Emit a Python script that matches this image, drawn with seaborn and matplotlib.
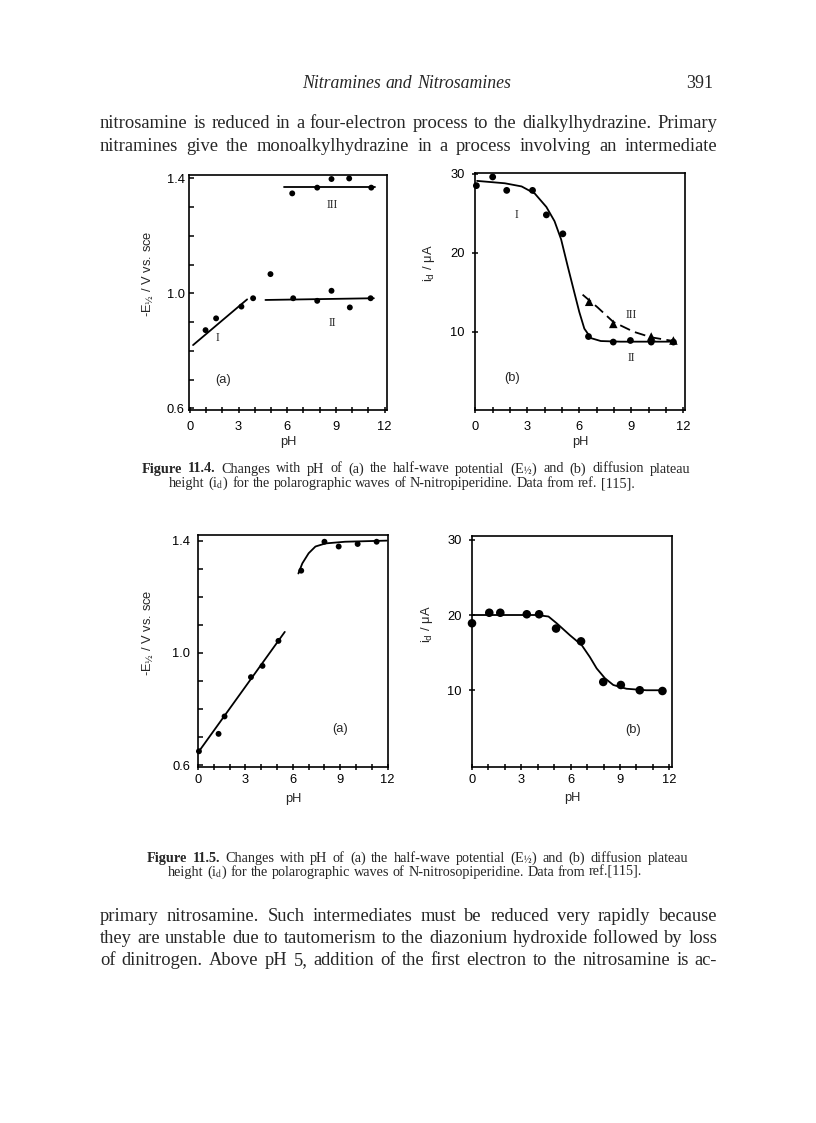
import numpy as np
import pandas as pd
import seaborn as sns
import matplotlib.pyplot as plt
from matplotlib.ticker import FixedLocator

sns.set_style("ticks")
plt.rcParams['font.family'] = ['Liberation Sans', 'DejaVu Sans']
plt.rcParams['axes.edgecolor'] = 'black'
plt.rcParams['xtick.color'] = 'black'
plt.rcParams['ytick.color'] = 'black'

# ---- Figure 11.4 (a): -E1/2 vs pH, N-nitropiperidine
e4a_ph = [0.97, 1.62, 3.18, 3.9, 4.97, 6.37, 7.85, 8.73, 9.86, 11.14]
e4a_val = [0.872, 0.913, 0.954, 0.983, 1.067, 0.983, 0.974, 1.009, 0.951, 0.983]
e4a_iii_ph = [6.31, 7.85, 8.73, 9.82, 11.18]
e4a_iii_val = [1.348, 1.368, 1.398, 1.400, 1.368]
fit4a_i_ph, fit4a_i_val = [0.2, 3.53], [0.82, 0.979]
fit4a_ii_ph, fit4a_ii_val = [4.66, 11.34], [0.977, 0.983]
fit4a_iii_ph, fit4a_iii_val = [5.8, 11.4], [1.371, 1.371]

# ---- Figure 11.4 (b): i_d vs pH
i4b_ph = [0.06, 1.0, 1.81, 3.3, 4.1, 5.05, 6.53, 7.96, 8.95, 10.15, 11.43]
i4b_val = [28.5, 29.6, 27.9, 27.9, 24.8, 22.4, 9.4, 8.7, 8.9, 8.7, 8.7]
i4b_iii_ph = [6.57, 7.96, 10.15, 11.43]
i4b_iii_val = [13.8, 11.0, 9.4, 8.9]
fit4b_ph = [0.1, 1.7, 2.67, 3.43, 4.1, 4.57, 4.95, 5.33, 5.71, 6.0, 6.29, 6.67, 7.24, 8.38, 11.43]
fit4b_val = [29.1, 28.8, 28.4, 27.5, 25.8, 24.0, 21.7, 18.3, 15.0, 12.5, 10.4, 9.2, 8.83, 8.75, 8.75]
fit4b_iii_ph = [6.19, 7.05, 7.96, 9.14, 10.15, 11.43]
fit4b_iii_val = [14.7, 13.1, 11.25, 10.0, 9.3, 8.83]

# ---- Figure 11.5 (a): -E1/2 vs pH, N-nitrosopiperidine
e5a_ph = [0.06, 1.3, 1.68, 3.35, 4.08, 5.09, 6.53, 8.0, 8.9, 10.1, 11.3]
e5a_val = [0.65, 0.712, 0.774, 0.914, 0.954, 1.043, 1.293, 1.396, 1.379, 1.388, 1.396]
fit5a_lin_ph, fit5a_lin_val = [0.0, 5.49], [0.645, 1.075]
fit5a_hi_ph = [6.35, 6.6, 7.0, 7.43, 8.06, 9.3, 11.94]
fit5a_hi_val = [1.283, 1.319, 1.355, 1.379, 1.39, 1.396, 1.40]

# ---- Figure 11.5 (b): i_d vs pH
i5b_ph = [0.0, 1.05, 1.72, 3.33, 4.08, 5.11, 6.63, 7.98, 9.05, 10.2, 11.58]
i5b_val = [18.9, 20.3, 20.3, 20.1, 20.1, 18.2, 16.5, 11.1, 10.7, 10.0, 9.9]
fit5b_ph = [0.06, 3.94, 4.65, 5.15, 5.96, 6.67, 7.17, 7.58, 8.08, 8.59, 9.39, 10.6, 11.72]
fit5b_val = [20.0, 20.0, 19.8, 18.9, 17.3, 16.0, 14.4, 12.9, 11.6, 10.7, 10.2, 10.0, 10.0]

W, H, DPI = 816, 1123, 100
fig = plt.figure(figsize=(W / DPI, H / DPI), dpi=DPI)
renderer = fig.canvas.get_renderer()

SERIF = 'Liberation Serif'
E_LABEL = r"-E$_{\mathrm{½}}$ / V vs. sce"
I_LABEL = r"i$_{\mathrm{d}}$ / μA"
TICK_FS = 9.3


def box(l, t, r, b):
    return fig.add_axes([l / W, 1 - b / H, (r - l) / W, (b - t) / H])


def style_axis(ax, xlim, ylim, ymajor, yminor, xpad, ypad, ydir, ylab, ylab_xy, xlab_y):
    ax.set_xlim(*xlim)
    ax.set_ylim(*ylim)
    ax.xaxis.set_major_locator(FixedLocator([0, 3, 6, 9, 12]))
    ax.xaxis.set_minor_locator(FixedLocator(range(0, 13)))
    ax.yaxis.set_major_locator(FixedLocator(ymajor))
    if yminor is not None:
        ax.yaxis.set_minor_locator(FixedLocator(yminor))
    ax.tick_params(axis='x', which='both', direction='inout', length=5, width=1.1,
                   labelsize=TICK_FS, pad=xpad, top=False)
    ax.tick_params(axis='y', which='both', direction=ydir, length=5 if ydir == 'inout' else 3.5,
                   width=1.1, labelsize=TICK_FS, pad=ypad, right=False)
    for s in ax.spines.values():
        s.set_visible(True)
        s.set_linewidth(1.2)
    ax.set_xlabel("pH", fontsize=TICK_FS)
    ax.xaxis.set_label_coords(0.5, xlab_y)
    ax.set_ylabel(ylab, fontsize=TICK_FS, math_fontfamily='dejavusans')
    ax.yaxis.set_label_coords(*ylab_xy)


def dots(ax, x, y, s, marker='o'):
    sns.scatterplot(x=x, y=y, ax=ax, color='black', s=s, marker=marker,
                    edgecolor='none', legend=False, clip_on=False, zorder=3)


def curve(ax, x, y, ls='-'):
    sns.lineplot(x=x, y=y, ax=ax, color='black', lw=1.3, sort=False,
                 estimator=None, linestyle=ls)


# ---------------- Figure 11.4 (a)
ax = box(189, 175, 387, 410)
curve(ax, fit4a_i_ph, fit4a_i_val)
curve(ax, fit4a_ii_ph, fit4a_ii_val)
curve(ax, fit4a_iii_ph, fit4a_iii_val)
dots(ax, e4a_ph, e4a_val, 18)
dots(ax, e4a_iii_ph, e4a_iii_val, 18)
ax.text(1.68, 0.843, "I", family=SERIF, fontsize=8.5, ha='center', va='center')
ax.text(8.77, 0.898, "II", family=SERIF, fontsize=8.5, ha='center', va='center')
ax.text(8.77, 1.307, "III", family=SERIF, fontsize=8.5, ha='center', va='center')
ax.text(2.05, 0.70, "(a)", fontsize=TICK_FS, ha='center', va='center')
style_axis(ax, (-0.05, 12.15), (0.594, 1.412), [0.6, 1.0, 1.4],
           np.round(np.arange(0.6, 1.41, 0.1), 2), 5.4, 3, 'in',
           E_LABEL, (-0.17, 0.58), -0.11)

# ---------------- Figure 11.4 (b)
ax = box(475, 173, 685, 410)
curve(ax, fit4b_ph, fit4b_val)
curve(ax, fit4b_iii_ph, fit4b_iii_val, ls=(0, (6, 3)))
dots(ax, i4b_ph, i4b_val, 24)
dots(ax, i4b_iii_ph, i4b_iii_val, 38, marker='^')
ax.text(2.38, 24.8, "I", family=SERIF, fontsize=8.5, ha='center', va='center')
ax.text(8.99, 12.1, "III", family=SERIF, fontsize=8.5, ha='center', va='center')
ax.text(8.99, 6.67, "II", family=SERIF, fontsize=8.5, ha='center', va='center')
ax.text(2.1, 4.2, "(b)", fontsize=TICK_FS, ha='center', va='center')
style_axis(ax, (-0.02, 12.1), (0.1, 30.1), [10, 20, 30], None, 5.4, 5, 'inout',
           I_LABEL, (-0.18, 0.62), -0.11)

# ---------------- Figure 11.5 (a)
ax = box(198, 535, 388, 767)
curve(ax, fit5a_lin_ph, fit5a_lin_val)
curve(ax, fit5a_hi_ph, fit5a_hi_val)
dots(ax, e5a_ph, e5a_val, 18)
ax.text(9.0, 0.73, "(a)", fontsize=TICK_FS, ha='center', va='center')
style_axis(ax, (0, 12.02), (0.594, 1.42), [0.6, 1.0, 1.4],
           np.round(np.arange(0.6, 1.41, 0.1), 2), 2.5, 5.5, 'in',
           E_LABEL, (-0.225, 0.58), -0.11)

# ---------------- Figure 11.5 (b)
ax = box(472, 536, 672, 767)
curve(ax, fit5b_ph, fit5b_val)
dots(ax, i5b_ph, i5b_val, 38)
ax.text(9.8, 4.67, "(b)", fontsize=TICK_FS, ha='center', va='center')
style_axis(ax, (0, 12.16), (-0.2, 30.5), [10, 20, 30], None, 2.5, 5, 'inout',
           I_LABEL, (-0.185, 0.62), -0.11)


# ---------------- page text
def text_line(runs, base_y, x0, x1=None, align="justify"):
    items = [(w, kw) for s, kw in runs for w in s.split()]
    objs = [fig.text(0, 1 - base_y / H, w, va='baseline', ha='left', **kw) for w, kw in items]
    widths = [o.get_window_extent(renderer).width for o in objs]
    size = items[-1][1].get('fontsize', 12)
    gap = 0.25 * size * DPI / 72
    if align == "justify":
        gap = max((x1 - x0 - sum(widths)) / (len(objs) - 1), 0.12 * size * DPI / 72)
    x = x0
    if align == "center":
        x = x0 - (sum(widths) + gap * (len(objs) - 1)) / 2
    for o, w in zip(objs, widths):
        o.set_x(x / W)
        x += w + gap


body = dict(family=SERIF, fontsize=13.3)
cap = dict(family=SERIF, fontsize=10.3, math_fontfamily='stix')
capb = dict(family=SERIF, fontsize=10.3, weight='bold')

text_line([("Nitramines and Nitrosamines", dict(family=SERIF, fontsize=12.8, style='italic'))],
          88, 406.5, align="center")
fig.text(713 / W, 1 - 88 / H, "391", family=SERIF, fontsize=13, ha='right', va='baseline')

text_line([("nitrosamine is reduced in a four-electron process to the dialkylhydrazine. Primary", body)],
          128, 100, 717)
text_line([("nitramines give the monoalkylhydrazine in a process involving an intermediate", body)],
          151, 100, 717)

text_line([("Figure 11.4.", capb),
           (r"Changes with pH of (a) the half-wave potential (E$_{\mathrm{½}}$) and (b) diffusion plateau", cap)],
          472.5, 142, 690)
text_line([(r"height (i$_{\mathrm{d}}$) for the polarographic waves of N-nitropiperidine. Data from ref. [115].", cap)],
          487, 402, align="center")

text_line([("Figure 11.5.", capb),
           (r"Changes with pH of (a) the half-wave potential (E$_{\mathrm{½}}$) and (b) diffusion plateau", cap)],
          862, 147, 688)
text_line([(r"height (i$_{\mathrm{d}}$) for the polarographic waves of N-nitrosopiperidine. Data from ref.[115].", cap)],
          876, 405, align="center")

text_line([("primary nitrosamine. Such intermediates must be reduced very rapidly because", body)],
          921, 100, 717)
text_line([("they are unstable due to tautomerism to the diazonium hydroxide followed by loss", body)],
          943, 100, 717)
text_line([("of dinitrogen. Above pH 5, addition of the first electron to the nitrosamine is ac-", body)],
          965, 100, 717)

fig.savefig("out.png", dpi=DPI)
